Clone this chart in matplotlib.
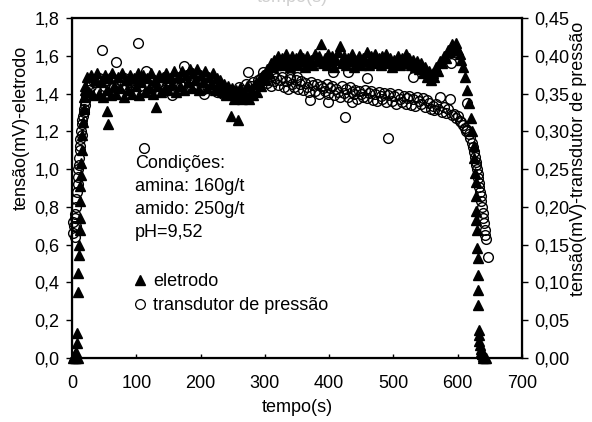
import matplotlib
matplotlib.use("Agg")
import matplotlib.pyplot as plt
from matplotlib.ticker import FuncFormatter, MultipleLocator
from matplotlib.lines import Line2D

### DATA
# eletrodo (left axis, mV)
el_t = [2, 3, 4, 5, 6, 7, 8, 8, 9, 10, 10, 11, 11, 12, 12, 13, 13, 14, 14, 15,
        16, 17, 18, 19, 20,
        21, 24, 27, 30, 33, 36, 39, 42, 45, 48,
        51, 54, 57, 60, 63, 66, 69, 72, 75, 78,
        81, 84, 87, 90, 93, 96, 99, 102, 105, 108,
        111, 114, 117, 120, 123, 126, 129, 132, 135, 138,
        141, 144, 147, 150, 153, 156, 159, 162, 165, 168,
        171, 174, 177, 180, 183, 186, 189, 192, 195, 198,
        201, 204, 207, 210, 213, 216, 219, 222, 225, 228,
        231, 234, 237, 240, 243, 246, 249,
        252, 255, 258, 261, 264, 267, 270, 273, 276, 279,
        282, 285, 288, 291, 294, 297, 300, 303, 306, 309,
        312, 315, 318,
        321, 324, 327, 330, 333, 336, 339, 342, 345, 348,
        351, 354, 357, 360, 363, 366, 369, 372, 375, 378,
        381, 384, 387, 390, 393, 396, 399, 402, 405, 408,
        411, 414, 417, 420, 423, 426, 429, 432, 435, 438,
        441, 444, 447, 450, 453, 456, 459, 462, 465, 468,
        471, 474, 477, 480, 483, 486, 489, 492, 495, 498,
        501, 504, 507, 510, 513, 516, 519, 522, 525, 528,
        531, 534, 537, 540, 543, 546, 549, 552, 555, 558,
        561, 564, 567, 570, 573, 576, 579, 582, 585, 588,
        591, 594, 597, 600, 603, 606, 609, 612,
        615, 618, 621, 623, 625, 626, 627, 628, 628, 629,
        629, 630, 630, 631, 631, 632, 632, 633, 634, 634,
        635, 636, 637, 638, 639, 640, 642, 644,
        55, 56, 131, 248, 258]
el_v = [0.0, 0.01, 0.0, 0.02, 0.0, 0.03, 0.08, 0.13, 0.0, 0.35, 0.45, 0.545, 0.6, 0.68, 0.74, 0.83, 0.91, 0.97, 1.03, 1.10,
        1.18, 1.25, 1.32, 1.38, 1.42,
        1.44, 1.49, 1.41, 1.50, 1.39, 1.47, 1.51, 1.40, 1.46, 1.38,
        1.50, 1.42, 1.48, 1.39, 1.51, 1.44, 1.40, 1.49, 1.43, 1.51,
        1.38, 1.47, 1.42, 1.50, 1.40, 1.48, 1.44, 1.51, 1.39, 1.46,
        1.50, 1.41, 1.48, 1.43, 1.51, 1.40, 1.47, 1.44, 1.50, 1.41,
        1.49, 1.43, 1.51, 1.42, 1.48, 1.45, 1.52, 1.41, 1.49, 1.44,
        1.52, 1.42, 1.50, 1.46, 1.53, 1.43, 1.51, 1.47, 1.53, 1.42,
        1.50, 1.46, 1.52, 1.43, 1.49, 1.45, 1.51, 1.42, 1.48, 1.44,
        1.47, 1.41, 1.45, 1.39, 1.44, 1.40, 1.43,
        1.37, 1.42, 1.38, 1.43, 1.37, 1.41, 1.38, 1.44, 1.37, 1.42,
        1.39, 1.45, 1.41, 1.47, 1.44, 1.50, 1.47, 1.53, 1.51, 1.56,
        1.54, 1.58, 1.55,
        1.60, 1.56, 1.59, 1.55, 1.61, 1.57, 1.54, 1.60, 1.56, 1.59,
        1.55, 1.61, 1.57, 1.59, 1.54, 1.60, 1.56, 1.58, 1.55, 1.61,
        1.57, 1.60, 1.66, 1.56, 1.59, 1.55, 1.61, 1.57, 1.60, 1.54,
        1.58, 1.62, 1.65, 1.56, 1.60, 1.55, 1.59, 1.57, 1.61, 1.54,
        1.58, 1.56, 1.60, 1.55, 1.59, 1.57, 1.62, 1.55, 1.60, 1.57,
        1.61, 1.56, 1.59, 1.55, 1.60, 1.57, 1.61, 1.56, 1.59, 1.54,
        1.58, 1.56, 1.60, 1.55, 1.59, 1.57, 1.61, 1.56, 1.59, 1.55,
        1.58, 1.54, 1.57, 1.53, 1.56, 1.51, 1.54, 1.49, 1.52, 1.47,
        1.51, 1.49, 1.54, 1.52, 1.57, 1.56, 1.60, 1.59, 1.63, 1.62,
        1.66, 1.64, 1.67, 1.63, 1.61, 1.58, 1.54, 1.49,
        1.42, 1.35, 1.27, 1.20, 1.12, 1.06, 0.98, 0.93, 0.86, 0.78,
        0.73, 0.68, 0.58, 0.53, 0.44, 0.36, 0.28, 0.15, 0.12, 0.09,
        0.07, 0.05, 0.03, 0.02, 0.01, 0.0, 0.0, 0.0,
        1.31, 1.24, 1.33, 1.28, 1.26]

# transdutor de pressao (right axis, mV)
tr_t = [1, 2, 3, 4, 5, 5, 6, 7, 7, 8, 9, 9, 10, 11, 11, 12, 13, 13, 14, 15,
        15, 16, 17, 18, 19, 20, 21, 22, 24, 26,
        30, 34, 38, 42, 47, 50, 54, 58, 62, 66,
        69, 73, 77, 81, 84, 88, 92, 96, 100, 103,
        106, 109, 112, 115, 119, 123, 127, 131, 135, 139,
        143, 147, 152, 156, 160, 165, 170, 175, 178, 182,
        186, 190, 194, 198, 202, 206, 210, 214, 218, 222,
        226, 230, 235, 240, 245, 250, 255, 260, 265, 270,
        274, 278, 282, 286, 290, 294, 297,
        300, 303, 306, 309, 312, 315, 318, 321, 324, 327,
        330, 333, 336, 339, 342, 345, 348, 351, 354, 357,
        360, 363, 366, 369, 372, 375, 378, 381, 384, 387,
        390, 393, 396, 399, 402, 405, 408, 411, 414, 417,
        420, 423, 426, 429, 432, 435, 438, 441, 444, 447,
        450, 453, 456, 459, 462, 465, 468, 471, 474, 477,
        480, 483, 486, 489, 492, 495, 498, 501, 504, 507,
        510, 513, 516, 519, 522, 525, 528, 531, 534, 537,
        540, 543, 546, 549, 552, 555, 558,
        339, 350, 370, 398, 406, 425, 430, 436, 459, 492, 531, 589,
        561, 564, 567, 570, 573, 576, 579, 582, 585, 588,
        591, 594, 597, 600, 603, 605, 608, 611, 613, 615,
        615, 618, 620, 622, 624, 626, 627, 628, 629, 630,
        631, 632, 633, 634, 635, 636, 637, 638, 639, 640,
        641, 642, 643, 644, 648]
tr_v = [.165, .18, .175, .185, .16, .19, .20, .175, .21, .22, .23, .24, .25, .255, .265, .275, .28, .29, .30, .295,
        .31, .315, .32, .33, .325, .335, .34, .345, .35, .355,
        .36, .365, .355, .37, .4075, .36, .368, .362, .37, .358,
        .392, .365, .36, .37, .357, .365, .358, .368, .362, .417,
        .36, .37, .278, .38, .362, .355, .366, .354, .365, .36,
        .37, .358, .367, .348, .362, .37, .36, .386, .372, .365,
        .358, .368, .362, .37, .355, .35, .36, .366, .356, .362,
        .352, .358, .35, .356, .348, .354, .35, .358, .355, .362,
        .378, .36, .365, .358, .368, .37, .378,
        .374, .364, .370, .360, .375, .366, .371, .361, .368, .372,
        .359, .367, .356, .369, .363, .359, .368, .356, .363, .366,
        .355, .364, .358, .352, .365, .361, .354, .362, .350, .360,
        .357, .353, .362, .349, .357, .360, .348, .356, .352, .345,
        .360, .351, .356, .346, .358, .352, .349, .355, .343, .354,
        .350, .346, .355, .344, .351, .354, .342, .350, .340, .352,
        .347, .343, .351, .339, .348, .351, .340, .347, .336, .349,
        .343, .339, .347, .336, .344, .347, .335, .343, .333, .346,
        .340, .336, .344, .332, .341, .338, .330,
        .372, .372, .342, .339, .378, .319, .378, .339, .370, .291, .372, .390,
        .334, .328, .336, .330, .345, .326, .332, .324, .329, .343,
        .322, .323, .318, .320, .314, .312, .308, .305, .300, .338,
        .302, .296, .291, .285, .279, .272, .266, .260, .255, .250,
        .244, .238, .232, .226, .220, .214, .208, .200, .192, .185,
        .178, .170, .163, .157, .134]

conditions = "Condições:\namina: 160g/t\namido: 250g/t\npH=9,52"


plt.rcParams['font.family'] = ['Liberation Sans', 'DejaVu Sans']
plt.rcParams['font.size'] = 13

fig = plt.figure(figsize=(5.92, 4.22), dpi=100)
ax1 = fig.add_axes([0.1216, 0.1517, 0.760, 0.8057])
ax2 = ax1.twinx()

ax1.plot(el_t, el_v, ls='none', marker='^', ms=6.5, color='black', clip_on=False)
ax2.plot(tr_t, tr_v, ls='none', marker='o', ms=7, mfc='none', mec='black',
         mew=1.0, clip_on=False)

ax1.set_xlim(0, 700)
ax1.set_ylim(0, 1.8)
ax2.set_ylim(0, 0.45)
ax1.xaxis.set_major_locator(MultipleLocator(100))
ax1.yaxis.set_major_locator(MultipleLocator(0.2))
ax2.yaxis.set_major_locator(MultipleLocator(0.05))

# decimal comma on both y axes
ax1.yaxis.set_major_formatter(FuncFormatter(lambda v, p: f"{v:.1f}".replace('.', ',')))
ax2.yaxis.set_major_formatter(FuncFormatter(lambda v, p: f"{v:.2f}".replace('.', ',')))

for sp in ax2.spines.values():
    sp.set_linewidth(1.6)
ax1.tick_params(axis='y', direction='out', length=4, width=1, pad=5)
ax1.tick_params(axis='x', direction='in', length=3, width=1, pad=12)
ax2.tick_params(axis='y', direction='out', length=4, width=1, pad=5)

ax1.set_xlabel("tempo(s)", labelpad=5)
ax1.set_ylabel("tensão(mV)-eletrodo")
ax1.yaxis.set_label_coords(-0.093, 0.676)
ax2.set_ylabel("tensão(mV)-transdutor de pressão", rotation=90)
ax2.yaxis.set_label_coords(1.108, 0.585)

ax1.text(0.14, 0.597, conditions, transform=ax1.transAxes, ha='left', va='top',
         linespacing=1.45)

handles = [Line2D([], [], ls='none', marker='^', ms=7, color='black'),
           Line2D([], [], ls='none', marker='o', ms=7, mfc='none', mec='black', mew=0.9)]
ax1.legend(handles, ["eletrodo", "transdutor de pressão"], loc='upper left',
           bbox_to_anchor=(0.14, 0.25), frameon=False, borderpad=0,
           handlelength=0.6, handletextpad=0.4, labelspacing=0.4, borderaxespad=0)

# caption from the figure above, cut by the top edge
fig.text(0.493, 1 - 1.5 / 422, "tempo(s)", ha='center', va='baseline', color='#d0d0d0')

fig.savefig("out.png", dpi=100)
